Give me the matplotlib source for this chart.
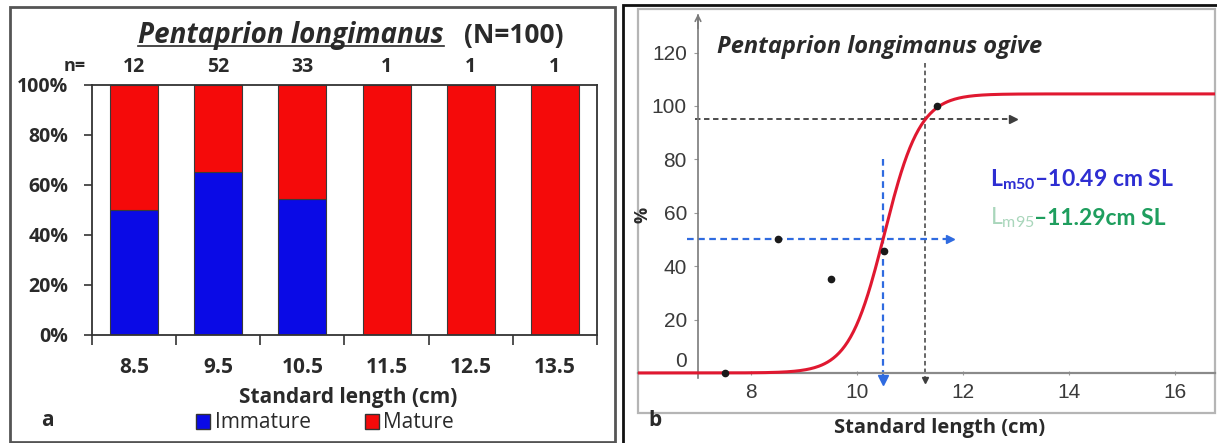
import numpy as np
import matplotlib
matplotlib.use("Agg")
import matplotlib.pyplot as plt
from matplotlib.patches import Rectangle, Patch
from matplotlib.lines import Line2D
from matplotlib.transforms import ScaledTranslation

# ---------------- data ----------------
length_classes = ["8.5", "9.5", "10.5", "11.5", "12.5", "13.5"]
n_per_class = [12, 52, 33, 1, 1, 1]
immature_pct = [50.0, 65.4, 54.5, 0.0, 0.0, 0.0]
mature_pct = [100.0 - v for v in immature_pct]

ogive_len = [7.5, 8.5, 9.5, 10.5, 11.5]
ogive_pct = [0.0, 50.0, 35.0, 45.5, 100.0]

lm50 = 10.49
lm95 = 11.29
asymptote = 104.5

y_ticks_left = [0, 20, 40, 60, 80, 100]
y_ticks_right = [0, 20, 40, 60, 80, 100, 120]
x_ticks_right = [8, 10, 12, 14, 16]

# ---------------- style ----------------
SANS = ["Open Sans", "DejaVu Sans"]
plt.rcParams["font.family"] = SANS
plt.rcParams["mathtext.fontset"] = "custom"
plt.rcParams["mathtext.rm"] = "Lato"
plt.rcParams["mathtext.bf"] = "Lato:bold"
plt.rcParams["mathtext.it"] = "Lato:italic"

W, H = 1217, 443
fig = plt.figure(figsize=(W / 100, H / 100), dpi=100)


def fx(px):
    return px / W


def fy(py):
    return 1 - py / H


TXT = "#2a2a2a"
WT = "bold"
BLUE_BAR = "#0a0ae6"
RED_BAR = "#f50a0a"

# panel frames
fig.patches.append(Rectangle((fx(10), fy(442)), fx(615) - fx(10), fy(7) - fy(442),
                             transform=fig.transFigure, fill=False,
                             edgecolor="#555555", lw=2))
fig.patches.append(Rectangle((fx(623), fy(446)), fx(1222) - fx(623), fy(5) - fy(446),
                             transform=fig.transFigure, fill=False,
                             edgecolor="#111111", lw=2))

# ================= panel a: stacked bars =================
ax1 = fig.add_axes([fx(92), fy(335), fx(597) - fx(92), fy(85) - fy(335)])
xpos = np.arange(len(length_classes))
ax1.bar(xpos, immature_pct, width=0.57, color=BLUE_BAR, edgecolor="#3a3a3a",
        lw=0.8, zorder=2)
ax1.bar(xpos, mature_pct, width=0.57, bottom=immature_pct, color=RED_BAR,
        edgecolor="#3a3a3a", lw=0.8, zorder=2)
ax1.set_xlim(-0.5, len(length_classes) - 0.5)
ax1.set_ylim(0, 100)
ax1.set_yticks(y_ticks_left)
ax1.set_yticklabels([f"{v}%" for v in y_ticks_left], fontsize=14,
                    fontweight=WT, color=TXT)
ax1.tick_params(axis="y", length=6, width=1.2, pad=11, color="#333333")
# category boundaries carry the tick marks; labels sit at the centres
ax1.set_xticks(np.arange(-0.5, len(length_classes), 1.0))
ax1.set_xticklabels([])
ax1.tick_params(axis="x", length=7, width=1.2, color="#333333")
for i, lab in enumerate(length_classes):
    ax1.text(i, -13, lab, ha="center", va="center", fontsize=15,
             fontweight=WT, color=TXT)
for sp in ax1.spines.values():
    sp.set_color("#333333")
    sp.set_linewidth(1.3)

# counts above the bars
fig.text(fx(75), fy(66), "n=", ha="center", va="center", fontsize=13,
         fontweight=WT, color=TXT)
for i, n in enumerate(n_per_class):
    ax1.text(i, 107, str(n), ha="center", va="center", fontsize=14,
             fontweight=WT, color=TXT)

fig.text(fx(348), fy(397), "Standard length (cm)", ha="center", va="center",
         fontsize=15, fontweight=WT, color=TXT)
fig.text(fx(47), fy(421), "a", ha="center", va="center", fontsize=15,
         fontweight=WT, color=TXT)

leg = fig.legend(handles=[Patch(facecolor=BLUE_BAR, edgecolor="#333333", label="Immature"),
                          Patch(facecolor=RED_BAR, edgecolor="#333333", label="Mature")],
                 loc="center", bbox_to_anchor=(fx(325), fy(423)), ncol=2,
                 frameon=False, handlelength=0.7, handleheight=0.7,
                 handletextpad=0.2, columnspacing=2.6,
                 prop={"family": "Open Sans", "size": 15})
for t in leg.get_texts():
    t.set_color(TXT)

title_sp = fig.text(fx(138), fy(43), "Pentaprion longimanus", ha="left",
                    va="baseline", fontsize=20, style="italic",
                    fontweight=WT, color=TXT)

# ================= panel b: logistic ogive =================
ax2 = fig.add_axes([fx(638), fy(413), fx(1215) - fx(638), fy(9) - fy(413)])
x0, x1 = 7 - 60 / 53, 7 + 517 / 53
ax2.set_xlim(x0, x1)
ax2.set_ylim(-15.0, 136.3)

# frame of the plotting area
ax2.add_patch(Rectangle((0, 0), 1, 1, transform=ax2.transAxes, fill=False,
                        edgecolor="#b5b5b5", lw=1.6, clip_on=False, zorder=1))
for s in ["top", "right"]:
    ax2.spines[s].set_visible(False)
ax2.spines["left"].set_position(("data", 7))
ax2.spines["bottom"].set_position(("data", 0))
ax2.spines["left"].set_color("#7a7a7a")
ax2.spines["bottom"].set_color("#8a8a8a")
ax2.spines["left"].set_linewidth(1.2)
ax2.spines["bottom"].set_linewidth(1.6)
ax2.spines["left"].set_bounds(-2, 134)

ax2.set_yticks(y_ticks_right)
ax2.set_yticklabels([str(v) for v in y_ticks_right], fontsize=15,
                    family="Liberation Sans", color="#3a3a3a")
ax2.set_xticks(x_ticks_right)
ax2.set_xticklabels([str(v) for v in x_ticks_right], fontsize=15,
                    family="Liberation Sans", color="#3a3a3a")
ax2.tick_params(axis="y", length=3, direction="out", pad=5, color="#999999")
ax2.tick_params(axis="x", length=3, direction="inout", pad=6, color="#999999")
# lift the zero label off the x axis
zero_lab = ax2.get_yticklabels()[0]
zero_lab.set_transform(zero_lab.get_transform() +
                       ScaledTranslation(0, 10 / 72, fig.dpi_scale_trans))
# arrow head at top of the y axis
ax2.annotate("", xy=(7, 135.5), xytext=(7, 128),
             arrowprops=dict(arrowstyle="->", color="#7a7a7a", lw=1.2,
                             mutation_scale=10), annotation_clip=False)

# fitted curve: asymptote and slope fixed by Lm50 and Lm95
r = (np.log(asymptote / 50 - 1) - np.log(asymptote / 95 - 1)) / (lm95 - lm50)
mid = lm50 + np.log(asymptote / 50 - 1) / r
xs = np.linspace(x0, x1, 400)
ys = asymptote / (1 + np.exp(-r * (xs - mid)))
ax2.plot(xs, ys, color="#e01830", lw=2.2, zorder=3)

# Lm95 guides
DARK = "#3d3d3d"
ax2.plot([6.95, 12.9], [95, 95], ls=(0, (3, 2)), color=DARK, lw=1.3, zorder=2)
ax2.plot([12.95], [95], marker=">", color=DARK, ms=6, zorder=2)
ax2.plot([lm95, lm95], [116, -1.5], ls=(0, (3, 2)), color=DARK, lw=1.1, zorder=2)
ax2.plot([lm95], [-2.5], marker="v", color=DARK, ms=5, zorder=2)

# Lm50 guides
BLUE_G = "#2f6be0"
ax2.plot([6.8, 11.7], [50, 50], ls=(0, (3, 2)), color=BLUE_G, lw=1.6, zorder=2)
ax2.plot([11.75], [50], marker=">", color=BLUE_G, ms=6, zorder=2)
ax2.plot([lm50, lm50], [80, -1.5], ls=(0, (3, 2)), color=BLUE_G, lw=1.6, zorder=2)
ax2.plot([lm50], [-2.5], marker="v", color=BLUE_G, ms=7, zorder=2)

ax2.plot(ogive_len, ogive_pct, "o", color="#1a1a1a", ms=4.5, zorder=4)

ax2.text(7.35, 122, "Pentaprion longimanus ogive", ha="left", va="center",
         fontsize=17, style="italic", fontweight=WT, color="#2a2a2a")

ax2.text(12.5, 70, r"$\mathbf{L_{m50}}$–10.49 cm SL", ha="left",
         va="baseline", fontsize=16.5, fontweight="bold", color="#2e2ed2",
         family="Lato")
lm95_lab = ax2.text(12.5, 55.5, r"$\mathrm{L_{m95}}$", ha="left", va="baseline",
                    fontsize=16.5, color="#a9d6bb", family="Lato")

fig.text(fx(940), fy(428), "Standard length (cm)", ha="center", va="center",
         fontsize=14.5, fontweight=WT, color=TXT)
fig.text(fx(655), fy(421), "b", ha="center", va="center", fontsize=15,
         fontweight=WT, color=TXT)
fig.text(fx(642), fy(215), "%", ha="center", va="center", fontsize=13,
         fontweight=WT, color=TXT, rotation=90)

# pieces placed after their neighbours have been measured
fig.canvas.draw()
rend = fig.canvas.get_renderer()
bb = title_sp.get_window_extent(rend)
base_y = fy(43) * H
fig.add_artist(Line2D([bb.x0 / W, bb.x1 / W], [(base_y - 3) / H] * 2,
                      color=TXT, lw=1.2))
fig.text((bb.x1 + 20) / W, fy(43), "(N=100)", ha="left", va="baseline",
         fontsize=19, fontweight=WT, color=TXT)

bb2 = lm95_lab.get_window_extent(rend)
inv = ax2.transData.inverted()
xr, _ = inv.transform((bb2.x1, 0))
ax2.text(xr, 55.5, "–11.29cm SL", ha="left", va="baseline", fontsize=16.5,
         fontweight="bold", color="#1f9e5e", family="Lato")

fig.savefig("out.png", dpi=100)
